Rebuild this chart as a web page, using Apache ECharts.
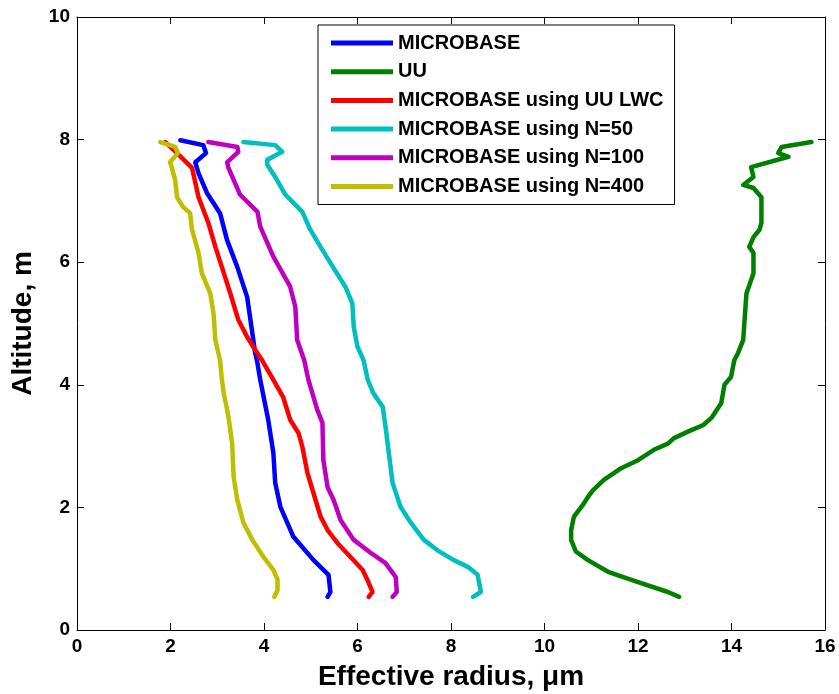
<!DOCTYPE html>
<html>
<head>
<meta charset="utf-8">
<script src="https://cdn.jsdelivr.net/npm/echarts@6/dist/echarts.min.js"></script>
<style>html,body{margin:0;padding:0;background:#fff}#c{width:839px;height:694px}</style>
</head>
<body>
<div id="c"></div>
<script>
// Legend names
var seriesNames = ['MICROBASE','UU','MICROBASE using UU LWC','MICROBASE using N=50','MICROBASE using N=100','MICROBASE using N=400'];
var seriesColors = ['#0000ff','#008000','#ff0000','#00bfbf','#bf00bf','#bfbf00'];
var xTicks = [0,2,4,6,8,10,12,14,16];
var yTicks = [0,2,4,6,8,10];

// Each series: [effective radius (um), altitude]
var microbase = [[2.21,7.99],[2.70,7.91],[2.76,7.78],[2.53,7.63],[2.60,7.45],[2.78,7.13],[3.06,6.80],[3.21,6.36],[3.43,5.92],[3.64,5.43],[3.71,5.06],[3.81,4.52],[3.85,4.40],[3.92,4.08],[4.09,3.43],[4.20,2.89],[4.24,2.40],[4.35,2.01],[4.63,1.52],[5.06,1.14],[5.38,0.90],[5.42,0.62],[5.36,0.54]];
var uu = [[15.71,7.96],[15.07,7.88],[15.00,7.78],[15.22,7.72],[14.42,7.55],[14.47,7.39],[14.25,7.26],[14.47,7.21],[14.64,7.06],[14.64,6.64],[14.60,6.53],[14.47,6.41],[14.38,6.25],[14.47,6.15],[14.47,5.82],[14.42,5.71],[14.32,5.49],[14.28,5.06],[14.25,4.73],[14.14,4.52],[14.06,4.40],[13.99,4.13],[13.85,4.00],[13.78,3.70],[13.57,3.46],[13.39,3.34],[13.14,3.26],[12.77,3.13],[12.64,3.04],[12.34,2.94],[12.00,2.77],[11.64,2.64],[11.27,2.45],[11.04,2.28],[10.93,2.17],[10.82,2.04],[10.63,1.85],[10.57,1.63],[10.57,1.47],[10.67,1.28],[10.93,1.14],[11.36,0.95],[12.00,0.78],[12.64,0.62],[12.88,0.54]];
var microbaseUULWC = [[1.89,7.96],[2.14,7.78],[2.46,7.54],[2.60,7.06],[2.81,6.64],[2.96,6.25],[3.10,5.92],[3.28,5.49],[3.45,5.06],[3.64,4.78],[3.81,4.57],[3.96,4.40],[4.20,4.08],[4.41,3.80],[4.56,3.43],[4.74,3.21],[4.82,2.99],[4.93,2.56],[5.04,2.28],[5.21,1.85],[5.36,1.63],[5.57,1.42],[5.85,1.19],[6.11,0.98],[6.21,0.82],[6.32,0.62],[6.24,0.54]];
var microbaseN50 = [[3.56,7.96],[4.24,7.91],[4.39,7.80],[4.07,7.67],[4.07,7.59],[4.24,7.39],[4.46,7.10],[4.82,6.82],[4.99,6.53],[5.21,6.25],[5.42,5.99],[5.74,5.60],[5.89,5.33],[5.92,4.94],[6.00,4.62],[6.13,4.40],[6.22,4.08],[6.34,3.86],[6.54,3.64],[6.60,3.31],[6.67,2.89],[6.75,2.40],[6.92,2.01],[7.14,1.75],[7.42,1.47],[7.71,1.30],[8.06,1.14],[8.36,1.03],[8.57,0.90],[8.64,0.62],[8.47,0.54]];
var microbaseN100 = [[2.81,7.96],[3.43,7.88],[3.45,7.80],[3.21,7.63],[3.24,7.54],[3.49,7.10],[3.86,6.82],[3.92,6.58],[4.20,6.09],[4.56,5.60],[4.67,5.27],[4.71,4.73],[4.86,4.40],[4.95,4.08],[5.14,3.59],[5.25,3.38],[5.27,2.77],[5.36,2.33],[5.49,2.12],[5.64,1.79],[5.92,1.47],[6.28,1.26],[6.60,1.09],[6.82,0.86],[6.84,0.62],[6.75,0.54]];
var microbaseN400 = [[1.78,7.96],[2.10,7.88],[2.16,7.78],[1.99,7.63],[2.03,7.54],[2.10,7.34],[2.14,7.06],[2.27,6.90],[2.42,6.80],[2.46,6.53],[2.60,6.15],[2.67,5.82],[2.85,5.49],[2.92,5.17],[2.96,4.73],[3.06,4.40],[3.10,4.08],[3.14,3.86],[3.24,3.48],[3.32,3.04],[3.35,2.50],[3.43,2.12],[3.56,1.75],[3.75,1.47],[3.99,1.19],[4.20,0.98],[4.29,0.82],[4.29,0.65],[4.22,0.54]];

var allData = [microbase, uu, microbaseUULWC, microbaseN50, microbaseN100, microbaseN400];

var FONT = 'Liberation Sans, Arial, Helvetica, sans-serif';
var chart = echarts.init(document.getElementById('c'), null, {renderer:'canvas'});

function axisBase(pos, min, max, showLabel, name) {
  return {
    type:'value', position:pos, min:min, max:max, interval:2,
    splitLine:{show:false},
    axisLine:{show:true, onZero:false, lineStyle:{color:'#000', width:1}},
    axisTick:{show:true, inside:true, length:7, lineStyle:{color:'#000'}},
    axisLabel:{show:showLabel, color:'#000', fontFamily:FONT, fontWeight:'bold', fontSize:19, margin:7},
    name:name||'', nameLocation:'middle',
    nameTextStyle:{color:'#000', fontFamily:FONT, fontWeight:'bold', fontSize:28}
  };
}

var xb = axisBase('bottom', xTicks[0], xTicks[xTicks.length-1], true, 'Effective radius, \u03bcm'); xb.nameGap = 33;
var xt = axisBase('top', xTicks[0], xTicks[xTicks.length-1], false);
var yl = axisBase('left', yTicks[0], yTicks[yTicks.length-1], true, 'Altitude, m'); yl.nameGap = 40;
var yr = axisBase('right', yTicks[0], yTicks[yTicks.length-1], false);

var series = allData.map(function(d, i){
  return {
    name: seriesNames[i], type:'line', xAxisIndex:0, yAxisIndex:0,
    data: d, showSymbol:false, symbol:'none', smooth:false,
    lineStyle:{color:seriesColors[i], width:4.5, join:'round', cap:'round'},
    itemStyle:{color:seriesColors[i]},
    z: 2 + i
  };
});

chart.setOption({
  animation:false,
  backgroundColor:'#fff',
  grid:{left:77, right:14, top:17, bottom:64, containLabel:false, outerBoundsMode:'none'},
  xAxis:[xb, xt],
  yAxis:[yl, yr],
  legend:{
    show:true, orient:'vertical', left:318, top:25,
    data: seriesNames.map(function(n){return {name:n, icon:'rect'};}),
    itemWidth:62, itemHeight:5, itemGap:8.7,
    padding:[8,11,8,13],
    backgroundColor:'#fff', borderColor:'#000', borderWidth:1,
    textStyle:{color:'#000', fontFamily:FONT, fontWeight:'bold', fontSize:20, lineHeight:20},
    selectedMode:false
  },
  series: series
});
</script>
</body>
</html>
